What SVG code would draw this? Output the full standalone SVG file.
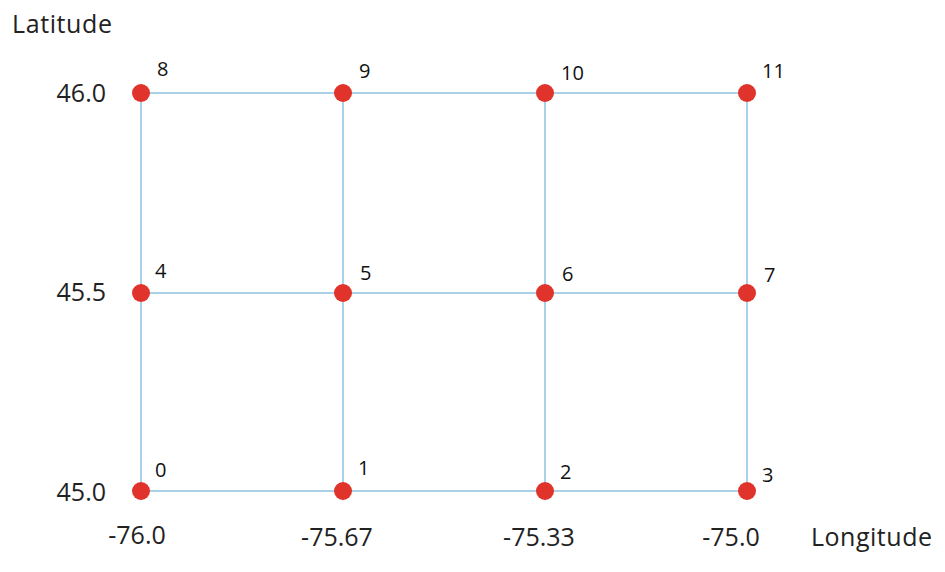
<svg xmlns="http://www.w3.org/2000/svg" width="945" height="572" viewBox="0 0 945 572">
<style>
.edge{stroke:#a9d1e8;stroke-width:2;fill:none}
.node{fill:#e0332b}
.num{font-family:"Open Sans","Liberation Sans",sans-serif;font-size:20px;fill:#111}
.ax{font-family:"Open Sans","Liberation Sans",sans-serif;font-size:25px;fill:#222}
</style>
<rect width="945" height="572" fill="#fff"/>
<g id="connectors">
<line class="edge" x1="141" y1="93" x2="747" y2="93"/>
<line class="edge" x1="141" y1="293" x2="747" y2="293"/>
<line class="edge" x1="141" y1="491" x2="747" y2="491"/>
<line class="edge" x1="141" y1="93" x2="141" y2="500"/>
<line class="edge" x1="343" y1="93" x2="343" y2="500"/>
<line class="edge" x1="545" y1="93" x2="545" y2="500"/>
<line class="edge" x1="747" y1="93" x2="747" y2="500"/>
</g>
<g id="n0"><circle class="node" cx="141" cy="491" r="9"/><text class="num" x="155" y="477">0</text></g>
<g id="n1"><circle class="node" cx="343" cy="491" r="9"/><text class="num" x="358" y="475">1</text></g>
<g id="n2"><circle class="node" cx="545" cy="491" r="9"/><text class="num" x="560" y="479">2</text></g>
<g id="n3"><circle class="node" cx="747" cy="491" r="9"/><text class="num" x="762" y="482">3</text></g>
<g id="n4"><circle class="node" cx="141" cy="293" r="9"/><text class="num" x="155" y="278">4</text></g>
<g id="n5"><circle class="node" cx="343" cy="293" r="9"/><text class="num" x="360" y="280">5</text></g>
<g id="n6"><circle class="node" cx="545" cy="293" r="9"/><text class="num" x="562" y="281">6</text></g>
<g id="n7"><circle class="node" cx="747" cy="293" r="9"/><text class="num" x="764" y="282">7</text></g>
<g id="n8"><circle class="node" cx="141" cy="93" r="9"/><text class="num" x="157" y="76">8</text></g>
<g id="n9"><circle class="node" cx="343" cy="93" r="9"/><text class="num" x="359" y="78">9</text></g>
<g id="n10"><circle class="node" cx="545" cy="93" r="9"/><text class="num" x="561" y="80">10</text></g>
<g id="n11"><circle class="node" cx="747" cy="93" r="9"/><text class="num" x="762" y="78">11</text></g>
<g id="axes">
<text class="ax" x="12" y="33" textLength="100" lengthAdjust="spacing">Latitude</text>
<text class="ax" x="106" y="102" text-anchor="end">46.0</text>
<text class="ax" x="106" y="301" text-anchor="end">45.5</text>
<text class="ax" x="106" y="501" text-anchor="end">45.0</text>
<text class="ax" x="137" y="544" text-anchor="middle">-76.0</text>
<text class="ax" x="337" y="546" text-anchor="middle">-75.67</text>
<text class="ax" x="539" y="546" text-anchor="middle">-75.33</text>
<text class="ax" x="731" y="546" text-anchor="middle">-75.0</text>
<text class="ax" x="811" y="546" textLength="121" lengthAdjust="spacing">Longitude</text>
</g>
</svg>
